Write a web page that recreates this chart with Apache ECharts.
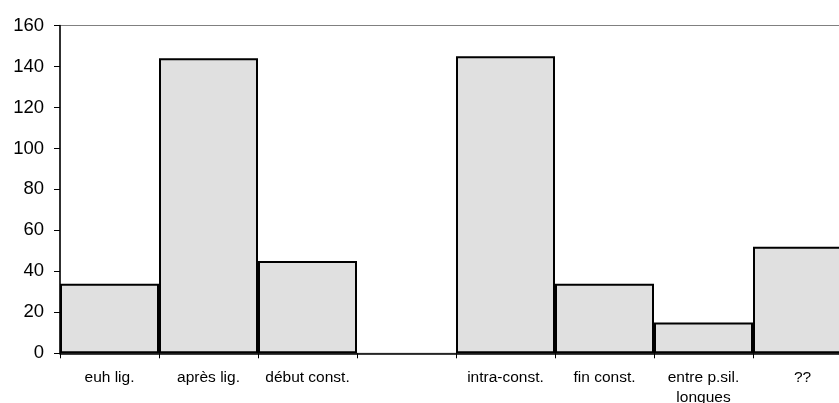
<!DOCTYPE html>
<html>
<head>
<meta charset="utf-8">
<script src="https://cdn.jsdelivr.net/npm/echarts@6/dist/echarts.min.js"></script>
<style>
html,body{margin:0;padding:0;background:#fff;overflow:hidden;width:839px;height:403px;}
#chart{width:852px;height:403px;}
</style>
</head>
<body>
<div id="chart"></div>
<script>
const categories = ["euh lig.", "après lig.", "début const.", "", "intra-const.", "fin const.", "entre p.sil.\nlongues", "??"];
const values = [34, 144, 45, null, 145, 34, 15, 52];
const yTicks = {min: 0, max: 160, interval: 20};

const chart = echarts.init(document.getElementById('chart'), null, {renderer: 'canvas'});
chart.setOption({
  animation: false,
  backgroundColor: '#ffffff',
  grid: {
    left: 60, top: 25.5, bottom: 49.7, right: 0,
    containLabel: false, outerBoundsMode: 'none',
    show: true, borderColor: '#808080', borderWidth: 1, backgroundColor: 'transparent'
  },
  xAxis: {
    type: 'category',
    data: categories,
    boundaryGap: true,
    axisLine: {show: true, lineStyle: {color: '#000', width: 1.5}},
    axisTick: {show: true, length: 5, alignWithLabel: false, lineStyle: {color: '#000', width: 1}},
    axisLabel: {
      interval: 0, margin: 14, color: '#000',
      fontFamily: 'Liberation Sans, Arial, sans-serif', fontSize: 15.5, lineHeight: 20
    },
    splitLine: {show: false}
  },
  yAxis: {
    type: 'value',
    min: yTicks.min, max: yTicks.max, interval: yTicks.interval,
    axisLine: {show: true, lineStyle: {color: '#000', width: 1.5}},
    axisTick: {show: true, length: 6, lineStyle: {color: '#000', width: 1}},
    axisLabel: {
      margin: 16, color: '#000',
      fontFamily: 'Liberation Sans, Arial, sans-serif', fontSize: 18.5
    },
    splitLine: {show: false}
  },
  series: [{
    type: 'bar',
    data: values,
    barCategoryGap: '0%',
    itemStyle: {color: '#e0e0e0', borderColor: '#000', borderWidth: 2}
  }]
});
</script>
</body>
</html>
